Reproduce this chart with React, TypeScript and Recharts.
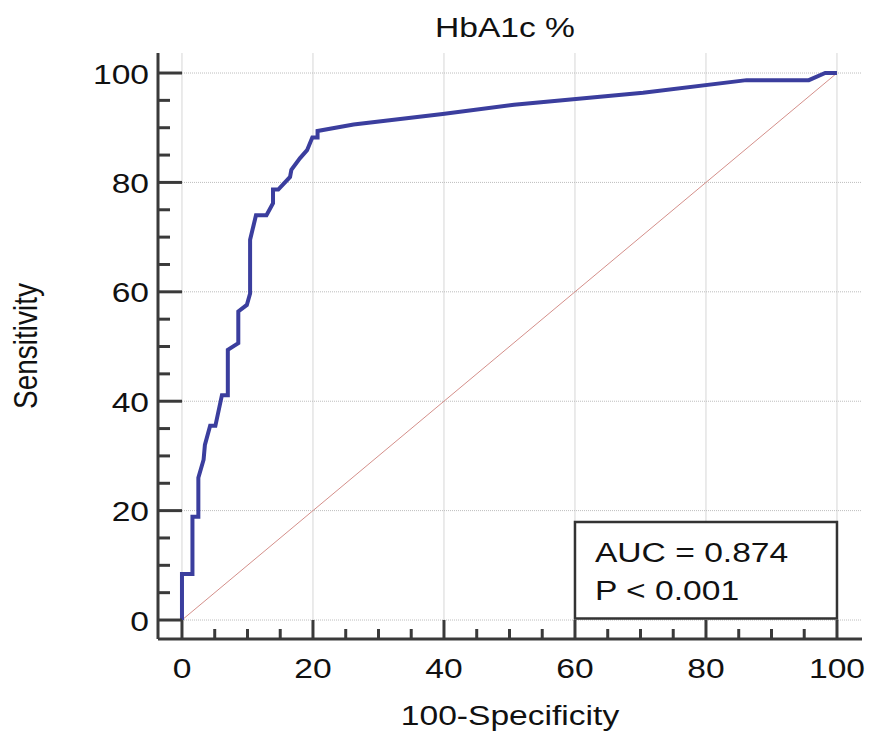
import { LineChart, Line, XAxis, YAxis, CartesianGrid, ReferenceLine, ReferenceArea } from "recharts";

// ROC curve points (100-Specificity, Sensitivity)
const FPR = [
  0, 0, 1.6, 1.6, 2.5, 2.5, 3.3, 3.5, 4.3, 5.1, 6.1, 7.0, 7.0, 8.6, 8.6, 9.9, 10.4, 10.4,
  11.3, 12.9, 13.9, 13.9, 14.7, 16.5, 16.7, 18.0, 19.1, 19.9, 20.7, 20.7, 26.2, 39.8, 50.7,
  70.4, 86.2, 95.7, 98.2, 100
];
const TPR = [
  0, 8.4, 8.4, 18.9, 18.9, 26.0, 29.3, 32.0, 35.5, 35.5, 41.1, 41.1, 49.4, 50.6, 56.4, 57.6,
  59.7, 69.5, 74.0, 74.0, 76.2, 78.7, 78.7, 81.0, 82.3, 84.4, 85.9, 88.2, 88.2, 89.4, 90.6,
  92.5, 94.2, 96.4, 98.7, 98.7, 100, 100
];
const TICKS = [0, 5, 10, 15, 20, 25, 30, 35, 40, 45, 50, 55, 60, 65, 70, 75, 80, 85, 90, 95, 100];
const MAJOR = [0, 20, 40, 60, 80, 100];
const TITLE = "HbA1c %";
const X_LABEL = "100-Specificity";
const Y_LABEL = "Sensitivity";
const STATS = ["AUC = 0.874", "P < 0.001"];

const data = FPR.map((x, i) => ({ x, y: TPR[i] }));

const FONT = '"Liberation Sans", Arial, sans-serif';
const AXIS = "#3a3a3a";
const SX = 1.2; // the source text is a bit stretched sideways

// plot box: left 158, right 862, top 53, bottom 639
const Y_AXIS_W = 60;
const X_AXIS_H = 30;

const YTick = ({ x, y, payload }: any) => {
  const major = payload.value % 20 === 0;
  return (
    <g>
      <line x1={x} x2={x + (major ? 24 : 12)} y1={y} y2={y} stroke={AXIS} strokeWidth={3} />
      {major && (
        <text
          transform={`translate(${x - 9},${y + 10.5}) scale(${SX},1)`}
          textAnchor="end"
          fontSize={28}
          fontFamily={FONT}
          fill="#111"
        >
          {payload.value}
        </text>
      )}
    </g>
  );
};

const XTick = ({ x, y, payload }: any) => {
  const major = payload.value % 20 === 0;
  return (
    <g>
      <line x1={x} x2={x} y1={y} y2={y - (major ? 19 : 10)} stroke={AXIS} strokeWidth={3} />
      {major && (
        <text
          transform={`translate(${x},${y + 39}) scale(${SX},1)`}
          textAnchor="middle"
          fontSize={28}
          fontFamily={FONT}
          fill="#111"
        >
          {payload.value}
        </text>
      )}
    </g>
  );
};

const XTitle = (props: any) => {
  const vb = props.viewBox || { x: 158, y: 639, width: 704 };
  return (
    <text
      transform={`translate(${vb.x + vb.width / 2},${vb.y + 86}) scale(${SX},1)`}
      textAnchor="middle"
      fontSize={28}
      fontFamily={FONT}
      fill="#111"
    >
      {X_LABEL}
    </text>
  );
};

const YTitle = (props: any) => {
  const vb = props.viewBox || { x: 98, y: 53, width: 60, height: 586 };
  const right = vb.x + vb.width;
  return (
    <text
      transform={`translate(${right - 121},${vb.y + vb.height / 2}) scale(${SX},1) rotate(-90)`}
      textAnchor="middle"
      fontSize={28}
      fontFamily={FONT}
      fill="#111"
    >
      {Y_LABEL}
    </text>
  );
};

const StatsBox = (props: any) => {
  const vb = props.viewBox || { x: 577, y: 522 };
  return (
    <g>
      {STATS.map((s, i) => (
        <text
          key={s}
          transform={`translate(${vb.x + 20},${vb.y + 40 + i * 38}) scale(${SX},1)`}
          fontSize={28}
          fontFamily={FONT}
          fill="#111"
        >
          {s}
        </text>
      ))}
    </g>
  );
};

export default function App() {
  return (
    <div style={{ position: "absolute", left: 0, top: 0, width: 869, height: 731, background: "#fff" }}>
      <LineChart
        width={869}
        height={731}
        data={data}
        margin={{ top: 53, right: 7, bottom: 92 - X_AXIS_H, left: 158 - Y_AXIS_W }}
      >
        <CartesianGrid horizontal={false} verticalValues={MAJOR} stroke="#d6d6d6" />
        <CartesianGrid vertical={false} horizontalValues={MAJOR} stroke="#bdbdbd" strokeDasharray="1 1" />
        <XAxis
          dataKey="x"
          type="number"
          domain={[-3.66, 103.82]}
          allowDataOverflow
          ticks={TICKS}
          interval={0}
          height={X_AXIS_H}
          tickSize={0}
          tickMargin={0}
          tickLine={false}
          tick={<XTick />}
          axisLine={{ stroke: AXIS, strokeWidth: 3 }}
          label={{ content: <XTitle /> }}
        />
        <YAxis
          type="number"
          domain={[-3.47, 103.66]}
          allowDataOverflow
          ticks={TICKS}
          interval={0}
          width={Y_AXIS_W}
          tickSize={0}
          tickMargin={0}
          tickLine={false}
          tick={<YTick />}
          axisLine={{ stroke: AXIS, strokeWidth: 3 }}
          label={{ content: <YTitle /> }}
        />
        <ReferenceLine
          segment={[{ x: 0, y: 0 }, { x: 100, y: 100 }]}
          stroke="#d48f8a"
          strokeWidth={1}
        />
        <ReferenceArea
          x1={60}
          x2={100}
          y1={0.3}
          y2={17.9}
          fill="#fff"
          fillOpacity={1}
          stroke="#333"
          strokeWidth={2.5}
          label={{ content: <StatsBox /> }}
        />
        <Line
          type="linear"
          dataKey="y"
          stroke="#3b3e9e"
          strokeWidth={4}
          dot={false}
          isAnimationActive={false}
        />
      </LineChart>
      <svg width={869} height={50} style={{ position: "absolute", left: 0, top: 0 }}>
        <text
          transform={`translate(505,37) scale(${SX},1)`}
          textAnchor="middle"
          fontSize={28}
          fontFamily={FONT}
          fill="#111"
        >
          {TITLE}
        </text>
      </svg>
    </div>
  );
}
